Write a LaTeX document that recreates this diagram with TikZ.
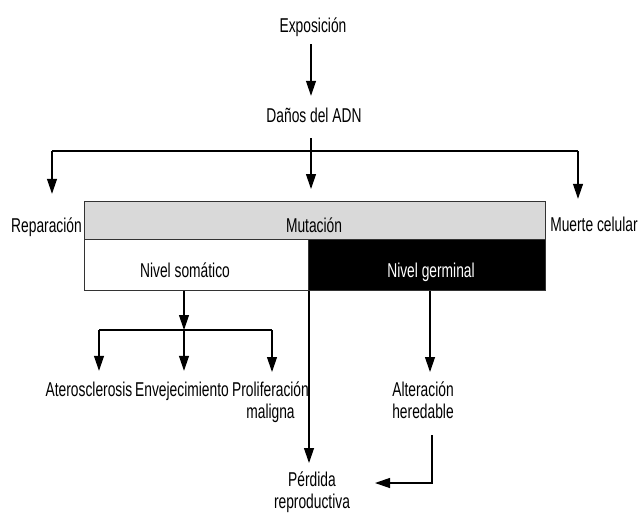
\documentclass[tikz,border=0pt]{standalone}
\usepackage{fontspec}
\usetikzlibrary{arrows.meta}
% narrow sans for all labels
\newfontfamily\condfont[FakeStretch=0.69]{Liberation Sans}
\newcommand\dfont{\condfont\fontsize{20pt}{21.5pt}\selectfont}
\definecolor{barGray}{HTML}{D9D9D9}
\definecolor{edgeGray}{HTML}{333333}

\begin{document}
\begin{tikzpicture}[x=1pt,y=-1pt,
  lbl/.style={font=\dfont, inner sep=0pt, text height=15pt, text depth=4pt, anchor=base},
  mlbl/.style={font=\dfont, inner sep=0pt, align=center, anchor=base},
  cell/.style={draw=edgeGray, line width=0.8pt, inner sep=0pt, anchor=north west},
  ln/.style={draw=black, line width=1.2pt},
  arr/.style={ln, -{Triangle[length=15pt,width=10pt]}}]
\useasboundingbox (0,0) rectangle (640,512);

% mutation bar
\node[cell, fill=barGray, minimum width=461pt, minimum height=38pt] (mut) at (84,201) {};
\node[cell, fill=white, minimum width=224pt, minimum height=51pt] (som) at (84,239) {};
\node[cell, fill=black, minimum width=237pt, minimum height=51pt] (ger) at (308,239) {};

% labels (multi-line labels are placed by the baseline of their last line)
\node[lbl] (expo)   at (313,32)  {Exposición};
\node[lbl] (danos)  at (314,122) {Daños del ADN};
\node[lbl] (repar)  at (46.5,232) {Reparación};
\node[lbl] (muerte) at (594,231) {Muerte celular};
\node[lbl] (mutl)   at (314,232) {Mutación};
\node[lbl] (soml)   at (185,277) {Nivel somático};
\node[lbl, text=white] (gerl) at (431,277) {Nivel germinal};
\node[lbl] (athero) at (89,396)  {Aterosclerosis};
\node[lbl] (enve)   at (182,396) {Envejecimiento};
\node[mlbl] (prolif) at (270.5,418) {Proliferación\\maligna};
\node[mlbl] (alter)  at (423,418) {Alteración\\heredable};
\node[mlbl] (perd)   at (312,508) {Pérdida\\reproductiva};

% junction points of the connectors
\coordinate (trunk) at (311,151);
\coordinate (lt) at (52,151);
\coordinate (rt) at (578,151);
\coordinate (sj) at (184,330);
\coordinate (sl) at (99,330);
\coordinate (sr) at (272,330);
\coordinate (gx) at (430,372);
\coordinate (px) at (309,463);
\coordinate (abend) at (432,483);
\coordinate (ptip) at (375,483);

% top part
\draw[arr, shorten <=8pt, shorten >=11pt] (expo.south -| trunk) -- (danos.north -| trunk);
\draw[arr, shorten <=12pt, shorten >=12pt] (danos.south -| trunk) -- (mut.north -| trunk);
\draw[ln] (lt) -- (rt);
\draw[arr, shorten >=23pt] (lt) -- (lt |- repar.north);
\draw[arr, shorten >=17pt] (rt) -- (rt |- muerte.north);

% somatic branch
\draw[arr] (som.south -| sj) -- (sj);
\draw[ln] (sl) -- (sr);
\draw[arr, shorten >=10pt] (sl) -- (sl |- athero.north);
\draw[arr, shorten >=10pt] (sj) -- (sj |- enve.north);
\draw[arr] (sr) -- (sr |- gx);

% germinal branch
\draw[arr] (ger.south west -| px) -- (px);
\draw[arr] (ger.south -| gx) -- (gx);
\draw[arr] (abend |- 0,435) -- (abend) -- (ptip);
\end{tikzpicture}
\end{document}
